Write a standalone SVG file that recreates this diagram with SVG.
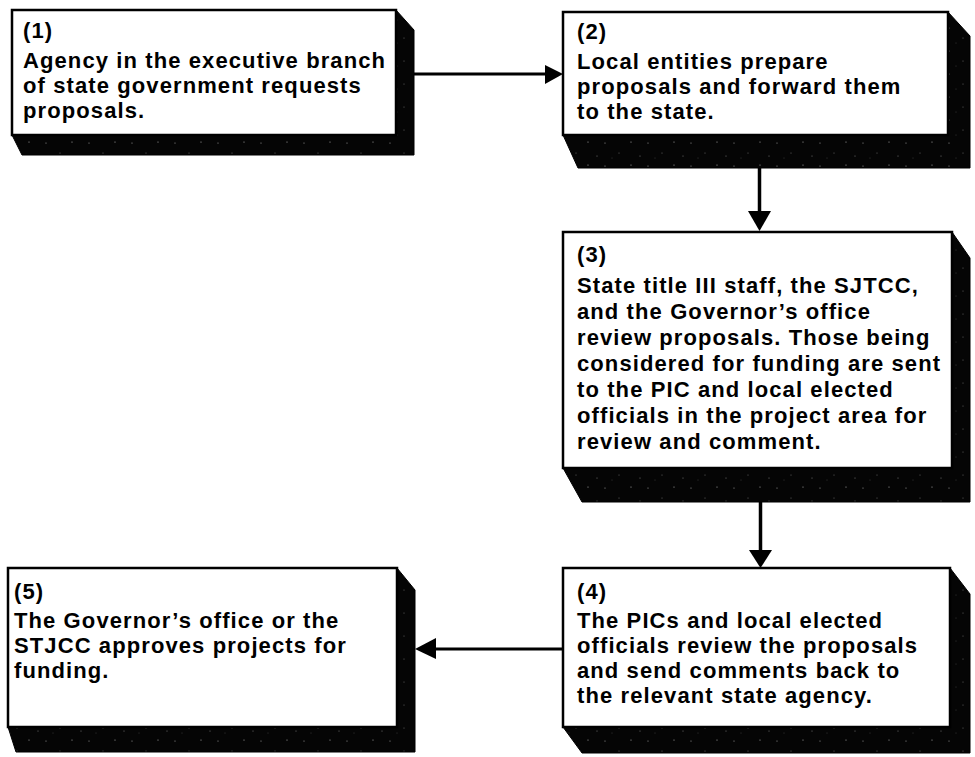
<svg xmlns="http://www.w3.org/2000/svg" width="975" height="757" viewBox="0 0 975 757">
<style>
.face{fill:#fff;stroke:#000;stroke-width:2.5}
.shadow{fill:url(#speck);stroke:#000;stroke-width:1}
.t{font-family:"Liberation Sans",Arial,Helvetica,sans-serif;font-weight:bold;font-size:22px;letter-spacing:1.1px;fill:#000}
.conn{stroke:#000;stroke-width:3;fill:none}
.head{fill:#000}
</style>
<defs>
<pattern id="speck" width="43" height="23" patternUnits="userSpaceOnUse">
<rect width="43" height="23" fill="#050505"/>
<circle cx="3" cy="5" r="0.6" fill="#9a9a9a"/>
<circle cx="17" cy="15" r="0.5" fill="#777"/>
<circle cx="29" cy="4" r="0.6" fill="#aaa"/>
<circle cx="38" cy="18" r="0.5" fill="#888"/>
<circle cx="10" cy="20" r="0.4" fill="#666"/>
</pattern>
</defs>
<rect width="975" height="757" fill="#fff"/>

<g id="node1">
<polygon class="shadow" points="396,10 414,30 414,155 22,155 12,135"/>
<rect class="face" x="12" y="10" width="384" height="125"/>
<text class="t" x="23" y="38">(1)</text>
<text class="t" x="23" y="68">Agency in the executive branch</text>
<text class="t" x="23" y="93">of state government requests</text>
<text class="t" x="23" y="118">proposals.</text>
</g>

<g id="node2">
<polygon class="shadow" points="948,12 970,36 970,168 578,168 563,135"/>
<rect class="face" x="563" y="12" width="385" height="123"/>
<text class="t" x="577" y="39">(2)</text>
<text class="t" x="577" y="69">Local entities prepare</text>
<text class="t" x="577" y="94">proposals and forward them</text>
<text class="t" x="577" y="119">to the state.</text>
</g>

<g id="node3">
<polygon class="shadow" points="952,232 970,258 970,502 582,502 563,468"/>
<rect class="face" x="563" y="232" width="389" height="236"/>
<text class="t" x="577" y="262">(3)</text>
<text class="t" x="577" y="293">State title III staff, the SJTCC,</text>
<text class="t" x="577" y="319">and the Governor’s office</text>
<text class="t" x="577" y="345">review proposals. Those being</text>
<text class="t" x="577" y="371">considered for funding are sent</text>
<text class="t" x="577" y="397">to the PIC and local elected</text>
<text class="t" x="577" y="423">officials in the project area for</text>
<text class="t" x="577" y="449">review and comment.</text>
</g>

<g id="node4">
<polygon class="shadow" points="950,568 970,594 970,753 582,753 563,727"/>
<rect class="face" x="563" y="568" width="387" height="159"/>
<text class="t" x="577" y="599">(4)</text>
<text class="t" x="577" y="628">The PICs and local elected</text>
<text class="t" x="577" y="653">officials review the proposals</text>
<text class="t" x="577" y="678">and send comments back to</text>
<text class="t" x="577" y="703">the relevant state agency.</text>
</g>

<g id="node5">
<polygon class="shadow" points="397,568 415,590 415,752 16,752 8,727"/>
<rect class="face" x="8" y="568" width="389" height="159"/>
<text class="t" x="14" y="599">(5)</text>
<text class="t" x="14" y="628">The Governor’s office or the</text>
<text class="t" x="14" y="653">STJCC approves projects for</text>
<text class="t" x="14" y="678">funding.</text>
</g>

<g id="connectors">
<line class="conn" x1="414" y1="74" x2="548" y2="74"/>
<polygon class="head" points="563,74 545,65 545,84"/>
<line class="conn" x1="759.5" y1="168" x2="759.5" y2="214" style="stroke-width:3.5"/>
<polygon class="head" points="759.5,231 748,211 771,211"/>
<line class="conn" x1="760.5" y1="502" x2="760.5" y2="553" style="stroke-width:3.5"/>
<polygon class="head" points="760.5,568 749,550 772,550"/>
<line class="conn" x1="563" y1="649" x2="432" y2="649"/>
<polygon class="head" points="415,649 436,638 436,659"/>
</g>
</svg>
